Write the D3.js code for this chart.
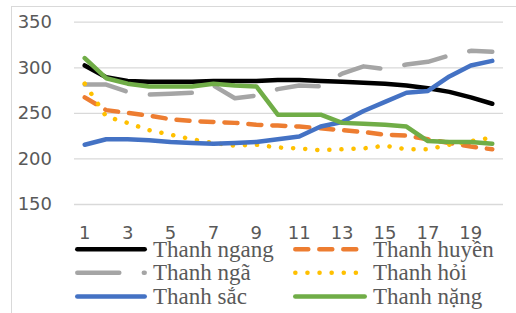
<!DOCTYPE html>
<html>
<head>
<meta charset="utf-8">
<script src="https://cdn.jsdelivr.net/npm/d3@7"></script>
<style>
    body { margin: 0; background: #fff; }
</style>
</head>
<body>
<div id="visualization-container"></div>
<script>
// Chart data
const categories = d3.range(1, 21);
const xTickLabels = [1, 3, 5, 7, 9, 11, 13, 15, 17, 19];
const yTicks = [150, 200, 250, 300, 350];

const thanhNgang = [302, 289, 285, 284, 284, 284, 285, 285, 285, 286, 286, 285, 284, 283, 282, 280, 277, 273, 267, 260];
const thanhHuyen = [267, 253, 250, 247, 243, 241, 240, 239, 237, 236, 235, 233, 231, 229, 226, 225, 221, 217, 213, 210];
const thanhNga = [281, 281, 273, 270, 271, 272, 280, 266, 269, 276, 280, 279, 293, 301, 298, 303, 306, 313, 318, 317];
const thanhHoi = [282, 246, 239, 231, 226, 221, 217, 214, 215, 212, 211, 209, 210, 211, 214, 210, 210, 215, 219, 223];
const thanhSac = [215, 221, 221, 220, 218, 217, 216, 217, 218, 221, 224, 235, 240, 252, 262, 272, 274, 290, 302, 307];
const thanhNang = [310, 288, 282, 279, 279, 279, 282, 280, 279, 248, 248, 248, 239, 238, 237, 235, 219, 218, 218, 216];

const seriesNames = ['Thanh ngang', 'Thanh huyền', 'Thanh ngã', 'Thanh hỏi', 'Thanh sắc', 'Thanh nặng'];
const seriesValues = [thanhNgang, thanhHuyen, thanhNga, thanhHoi, thanhSac, thanhNang];

// line styles per series (colour, dash)
const styles = [
    { color: '#000000', dash: null },
    { color: '#ED7D31', dash: '13 11' },
    { color: '#A5A5A5', dash: '42 24.5' },
    { color: '#FFC000', dash: '0.1 12' },
    { color: '#4472C4', dash: null },
    { color: '#70AD47', dash: null }
];

function createVisualization() {
    const svgWidth = 516;
    const svgHeight = 313;
    const plot = { left: 74, right: 503, top: 21.7, bottom: 204 };
    const textColor = '#595959';
    const gridColor = '#D9D9D9';
    const lineWidth = 4.5;

    const svg = d3.select('#visualization-container').append('svg')
        .attr('width', svgWidth)
        .attr('height', svgHeight)
        .style('display', 'block');

    // chart border (only top and left are visible in the crop)
    svg.append('rect')
        .attr('x', 11.5)
        .attr('y', 6.5)
        .attr('width', svgWidth + 10)
        .attr('height', svgHeight + 10)
        .attr('fill', 'none')
        .attr('stroke', gridColor);

    const x = d3.scaleBand()
        .domain(categories)
        .range([plot.left, plot.right]);
    const xc = d => x(d) + x.bandwidth() / 2;

    const y = d3.scaleLinear()
        .domain([150, 350])
        .range([plot.bottom, plot.top]);

    // y axis with gridlines
    const yAxis = d3.axisLeft(y)
        .tickValues(yTicks)
        .tickSize(-(plot.right - plot.left))
        .tickPadding(22);

    const yG = svg.append('g')
        .attr('transform', `translate(${plot.left},0)`)
        .call(yAxis);
    yG.select('.domain').remove();
    yG.selectAll('.tick line')
        .attr('stroke', gridColor)
        .attr('stroke-width', 1.3);
    yG.selectAll('.tick text')
        .attr('fill', textColor)
        .style('font-family', '"DejaVu Sans", sans-serif')
        .style('font-size', '18px');

    // x axis labels (odd categories only)
    const xAxis = d3.axisBottom(x)
        .tickValues(xTickLabels)
        .tickSize(0)
        .tickPadding(22);

    const xG = svg.append('g')
        .attr('transform', `translate(0,${plot.bottom})`)
        .call(xAxis);
    xG.select('.domain').remove();
    xG.selectAll('.tick text')
        .attr('fill', textColor)
        .style('font-family', '"DejaVu Sans", sans-serif')
        .style('font-size', '18px');

    // series lines
    const line = d3.line()
        .x((d, i) => xc(categories[i]))
        .y(d => y(d));

    seriesValues.forEach((values, i) => {
        svg.append('path')
            .datum(values)
            .attr('d', line)
            .attr('fill', 'none')
            .attr('stroke', styles[i].color)
            .attr('stroke-width', lineWidth)
            .attr('stroke-linecap', 'round')
            .attr('stroke-linejoin', 'round')
            .attr('stroke-dasharray', styles[i].dash);
    });

    // legend: two columns, three rows
    const legendCols = [
        { x1: 77.3, x2: 144.7, tx: 153 },
        { x1: 295.3, x2: 364.7, tx: 373 }
    ];
    const legendRows = [249.3, 272.8, 296.5];

    seriesNames.forEach((name, i) => {
        const col = legendCols[i % 2];
        const rowY = legendRows[Math.floor(i / 2)];
        const g = svg.append('g');

        g.append('line')
            .attr('x1', col.x1)
            .attr('x2', col.x2)
            .attr('y1', rowY)
            .attr('y2', rowY)
            .attr('stroke', styles[i].color)
            .attr('stroke-width', lineWidth)
            .attr('stroke-linecap', 'round')
            .attr('stroke-dasharray', styles[i].dash);

        g.append('text')
            .attr('x', col.tx)
            .attr('y', rowY + 7.5)
            .attr('fill', textColor)
            .style('font-family', '"Liberation Serif", "Times New Roman", serif')
            .style('font-size', '23px')
            .text(name);
    });
}

document.addEventListener('DOMContentLoaded', () => {
    createVisualization();
});
</script>
</body>
</html>
